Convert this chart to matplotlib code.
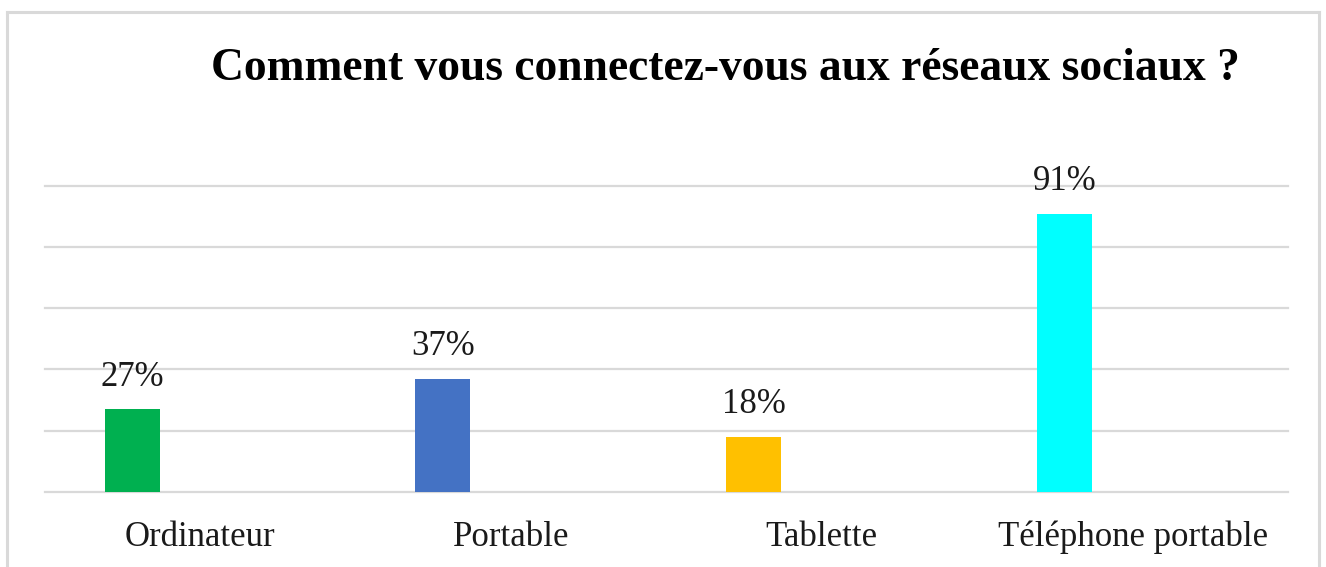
import matplotlib
matplotlib.use("Agg")
import matplotlib.pyplot as plt
from matplotlib.lines import Line2D

# chart data
categories = ["Ordinateur", "Portable", "Tablette", "Téléphone portable"]
values = [27, 37, 18, 91]
value_labels = ["27%", "37%", "18%", "91%"]
colors = ["#00B050", "#4472C4", "#FFC000", "#00FFFF"]
title = "Comment vous connectez-vous aux réseaux sociaux ?"

plt.rcParams['font.family'] = ['Liberation Serif', 'DejaVu Serif']

W, H = 1326, 567
fig = plt.figure(figsize=(W / 100, H / 100), dpi=100)
ax = fig.add_axes([45 / W, 1 - 491.7 / H, (1288 - 45) / W, (491.7 - 186) / H])

x = list(range(len(categories)))
bar_x = [i - 0.22 for i in x]
ax.bar(bar_x, values, width=0.177, color=colors, zorder=3)

for bx, v, lab in zip(bar_x, values, value_labels):
    ax.annotate(lab, (bx, v), xytext=(0, 17), textcoords="offset points",
                ha="center", va="baseline", fontsize=25, color="#1a1a1a")

ax.set_xlim(-0.5, 3.5)
ax.set_ylim(0, 100)
ax.set_yticks([0, 20, 40, 60, 80, 100])
ax.yaxis.grid(True, color="#D9D9D9", linewidth=1.6, zorder=0)
for gl in ax.get_ygridlines():
    gl.set_clip_on(False)
ax.tick_params(axis="y", left=False, labelleft=False)
ax.set_xticks(x)
ax.set_xticklabels(categories, fontsize=25, color="#1a1a1a")
ax.tick_params(axis="x", length=0, pad=21)
for s in ax.spines.values():
    s.set_visible(False)
ax.set_axisbelow(True)

# title baseline sits at about y=80 px in the reference
fig.text(725 / W, 1 - 80 / H, title, ha="center", va="baseline",
         fontsize=32.8, fontweight="bold", color="#000000")

# outer chart border
bc = "#D9D9D9"
fig.add_artist(Line2D([7 / W, 7 / W], [0, 1 - 12 / H], color=bc, linewidth=2.2, transform=fig.transFigure))
fig.add_artist(Line2D([1319 / W, 1319 / W], [0, 1 - 12 / H], color=bc, linewidth=2.2, transform=fig.transFigure))
fig.add_artist(Line2D([7 / W, 1319 / W], [1 - 12 / H, 1 - 12 / H], color=bc, linewidth=2.2, transform=fig.transFigure))

fig.savefig("out.png", dpi=100)
